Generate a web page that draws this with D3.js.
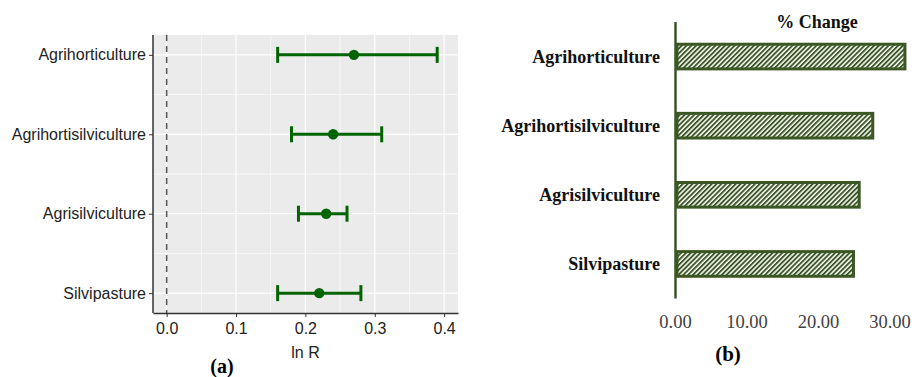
<!DOCTYPE html>
<html>
<head>
<meta charset="utf-8">
<script src="https://cdn.jsdelivr.net/npm/d3@7"></script>
<style>
    body { margin: 0; background: #fff; }
    svg { display: block; }
</style>
</head>
<body>
<svg id="chart" width="917" height="377"></svg>
<script>
// panel (a): ln R with confidence interval
const categories = ["Agrihorticulture", "Agrihortisilviculture", "Agrisilviculture", "Silvipasture"];
const lnR = [0.27, 0.24, 0.23, 0.22];
const lnRLow = [0.16, 0.18, 0.19, 0.16];
const lnRHigh = [0.39, 0.31, 0.26, 0.28];
const lnRTicks = [0, 0.1, 0.2, 0.3, 0.4];
const lnRMinor = [0.05, 0.15, 0.25, 0.35];

// panel (b): % change
const pctChange = [32.3, 27.8, 25.9, 25.1];
const pctTicks = [0, 10, 20, 30];

const svg = d3.select("#chart");
svg.append("rect").attr("width", 917).attr("height", 377).attr("fill", "#fff");

const sans = "Liberation Sans, Arial, sans-serif";
const serif = "Liberation Serif, Times New Roman, serif";

// ---------- panel a ----------
const ax = { left: 153, right: 458, top: 35, bottom: 313 };
const darkGreen = "#006400";

const xA = d3.scaleLinear().domain([-0.0197, 0.42]).range([ax.left, ax.right]);
const yA = d3.scalePoint().domain(categories).range([ax.top, ax.bottom]).padding(0.25);

const gA = svg.append("g");
gA.append("rect")
    .attr("x", ax.left).attr("y", ax.top)
    .attr("width", ax.right - ax.left).attr("height", ax.bottom - ax.top)
    .attr("fill", "#ebebeb");

// minor grid
gA.selectAll(".vminor").data(lnRMinor).join("line")
    .attr("x1", d => xA(d)).attr("x2", d => xA(d))
    .attr("y1", ax.top).attr("y2", ax.bottom)
    .attr("stroke", "#fff").attr("stroke-width", 0.6);
const midCats = d3.pairs(categories).map(([a, b]) => (yA(a) + yA(b)) / 2);
gA.selectAll(".hminor").data(midCats).join("line")
    .attr("x1", ax.left).attr("x2", ax.right)
    .attr("y1", d => d).attr("y2", d => d)
    .attr("stroke", "#fff").attr("stroke-width", 0.6);

// major grid
gA.selectAll(".vmajor").data(lnRTicks).join("line")
    .attr("x1", d => xA(d)).attr("x2", d => xA(d))
    .attr("y1", ax.top).attr("y2", ax.bottom)
    .attr("stroke", "#fff").attr("stroke-width", 1.2);
gA.selectAll(".hmajor").data(categories).join("line")
    .attr("x1", ax.left).attr("x2", ax.right)
    .attr("y1", d => yA(d)).attr("y2", d => yA(d))
    .attr("stroke", "#fff").attr("stroke-width", 1.2);

// zero reference
gA.append("line")
    .attr("x1", xA(0)).attr("x2", xA(0))
    .attr("y1", ax.top).attr("y2", ax.bottom)
    .attr("stroke", "#555").attr("stroke-width", 1.5)
    .attr("stroke-dasharray", "6,5");

// error bars
const rows = categories.map((c, i) => ({ c, m: lnR[i], lo: lnRLow[i], hi: lnRHigh[i] }));
const eb = gA.selectAll(".eb").data(rows).join("g");
eb.append("line")
    .attr("x1", d => xA(d.lo)).attr("x2", d => xA(d.hi))
    .attr("y1", d => yA(d.c)).attr("y2", d => yA(d.c))
    .attr("stroke", darkGreen).attr("stroke-width", 3);
eb.append("line")
    .attr("x1", d => xA(d.lo)).attr("x2", d => xA(d.lo))
    .attr("y1", d => yA(d.c) - 8).attr("y2", d => yA(d.c) + 8)
    .attr("stroke", darkGreen).attr("stroke-width", 3);
eb.append("line")
    .attr("x1", d => xA(d.hi)).attr("x2", d => xA(d.hi))
    .attr("y1", d => yA(d.c) - 8).attr("y2", d => yA(d.c) + 8)
    .attr("stroke", darkGreen).attr("stroke-width", 3);
eb.append("circle")
    .attr("cx", d => xA(d.m)).attr("cy", d => yA(d.c))
    .attr("r", 5.2).attr("fill", darkGreen);

// axes
const axisA = gA.append("g").attr("transform", `translate(0,${ax.bottom})`)
    .call(d3.axisBottom(xA).tickValues(lnRTicks).tickFormat(d3.format(".1f")).tickSize(4).tickSizeOuter(0));
axisA.select(".domain").attr("stroke", "#333").attr("stroke-width", 1.5);
axisA.selectAll(".tick line").attr("stroke", "#333");
axisA.selectAll(".tick text")
    .attr("font-family", sans)
    .attr("font-size", 16).attr("fill", "#222").attr("dy", "0.9em");

const axisAy = gA.append("g").attr("transform", `translate(${ax.left},0)`)
    .call(d3.axisLeft(yA).tickSize(4).tickSizeOuter(0));
axisAy.select(".domain").attr("stroke", "#333").attr("stroke-width", 1.5)
    .attr("d", `M0,${ax.top}V${ax.bottom}`);
axisAy.selectAll(".tick line").attr("stroke", "#333");
axisAy.selectAll(".tick text")
    .attr("font-family", sans)
    .attr("font-size", 16).attr("fill", "#222").attr("x", -7);

gA.append("text")
    .attr("x", (ax.left + ax.right) / 2).attr("y", 358)
    .attr("text-anchor", "middle")
    .attr("font-family", sans)
    .attr("font-size", 16).attr("fill", "#222")
    .text("ln R");

gA.append("text")
    .attr("x", 222).attr("y", 373)
    .attr("text-anchor", "middle")
    .attr("font-family", serif)
    .attr("font-weight", "bold").attr("font-size", 20)
    .text("(a)");

// ---------- panel b ----------
const bx = { left: 675.5, top: 22, bottom: 298.5 };
const barGreen = "#3b5724";

const xB = d3.scaleLinear().domain([0, 30]).range([bx.left, 890]);
const yB = d3.scaleBand().domain(categories).range([bx.top, bx.bottom])
    .paddingInner(0.6).paddingOuter(0.3);

const defs = svg.append("defs");
const pat = defs.append("pattern")
    .attr("id", "hatch").attr("patternUnits", "userSpaceOnUse")
    .attr("width", 3.4).attr("height", 3.4)
    .attr("patternTransform", "rotate(45)");
pat.append("rect").attr("width", 3.4).attr("height", 3.4).attr("fill", "#fff");
pat.append("rect").attr("width", 1.9).attr("height", 3.4).attr("fill", barGreen);

const gB = svg.append("g");
gB.selectAll(".bar").data(categories).join("rect")
    .attr("x", xB(0) + 1.5)
    .attr("y", d => yB(d) + 1.5)
    .attr("width", (d, i) => xB(pctChange[i]) - xB(0) - 3)
    .attr("height", yB.bandwidth() - 3)
    .attr("fill", "url(#hatch)")
    .attr("stroke", barGreen).attr("stroke-width", 3);

gB.append("line")
    .attr("x1", bx.left).attr("x2", bx.left)
    .attr("y1", bx.top).attr("y2", bx.bottom)
    .attr("stroke", barGreen).attr("stroke-width", 2.5);

gB.selectAll(".cat").data(categories).join("text")
    .attr("x", 660).attr("y", d => yB(d) + yB.bandwidth() / 2)
    .attr("dy", "0.35em").attr("text-anchor", "end")
    .attr("font-family", serif)
    .attr("font-weight", "bold").attr("font-size", 18)
    .attr("fill", "#111")
    .text(d => d);

gB.selectAll(".xt").data(pctTicks).join("text")
    .attr("x", d => xB(d)).attr("y", 328)
    .attr("text-anchor", "middle")
    .attr("font-family", serif)
    .attr("font-size", 18.5).attr("fill", "#404040")
    .text(d => d3.format(".2f")(d));

gB.append("text")
    .attr("x", 817).attr("y", 28)
    .attr("text-anchor", "middle")
    .attr("font-family", serif)
    .attr("font-weight", "bold").attr("font-size", 18)
    .attr("fill", "#111")
    .text("% Change");

gB.append("text")
    .attr("x", 728).attr("y", 361)
    .attr("text-anchor", "middle")
    .attr("font-family", serif)
    .attr("font-weight", "bold").attr("font-size", 21)
    .text("(b)");
</script>
</body>
</html>
